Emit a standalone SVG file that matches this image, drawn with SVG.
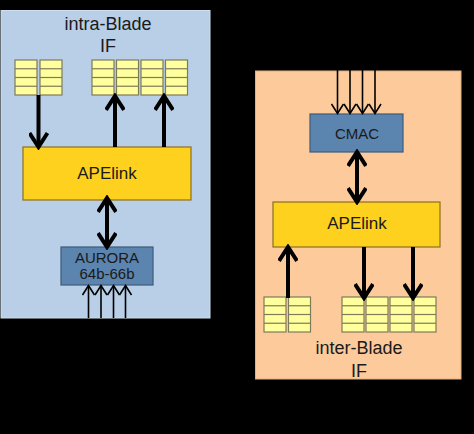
<svg xmlns="http://www.w3.org/2000/svg" width="474" height="434" viewBox="0 0 474 434">
<style>
.t{font-family:"Liberation Sans",Arial,sans-serif;fill:#1a1a1a;text-anchor:middle}
.thick{stroke:#000;stroke-width:4;fill:none}
.thin{stroke:#000;stroke-width:1.6;fill:none}
.ape{fill:#FFD11F;stroke:#8a7020;stroke-width:1.2}
.blue{fill:#5B84AE;stroke:#3c5a7a;stroke-width:1.2}
</style>
<defs>
<marker id="ck" markerUnits="userSpaceOnUse" viewBox="0 0 20 20" refX="16" refY="10" markerWidth="20" markerHeight="20" orient="auto-start-reverse">
<path d="M3,1 L17,10 L3,19" fill="none" stroke="#000" stroke-width="4"/>
</marker>
<marker id="cn" markerUnits="userSpaceOnUse" viewBox="0 0 14 14" refX="11" refY="7" markerWidth="14" markerHeight="14" orient="auto">
<path d="M2,1 L11.5,7 L2,13" fill="none" stroke="#000" stroke-width="1.6"/>
</marker>
<g id="f" fill="#FFFF9E" stroke="#7d7b5a" stroke-width="1.2">
<rect x="0" y="0" width="22" height="35"/>
<line x1="0" y1="8.75" x2="22" y2="8.75"/>
<line x1="0" y1="17.5" x2="22" y2="17.5"/>
<line x1="0" y1="26.25" x2="22" y2="26.25"/>
</g>
</defs>
<rect x="0" y="0" width="474" height="434" fill="#000"/>
<g id="intra-panel">
<rect x="1" y="10.5" width="209" height="307.5" fill="#B8CFE7" stroke="#cfdff0" stroke-width="1"/>
<text class="t" x="108" y="30" font-size="18">intra-Blade</text>
<text class="t" x="108" y="52" font-size="18">IF</text>
</g>
<g id="inter-panel">
<rect x="255.5" y="71" width="205.5" height="308" fill="#FDCB9B" stroke="#e0b080" stroke-width="1"/>
<text class="t" x="359" y="354" font-size="18">inter-Blade</text>
<text class="t" x="359" y="377" font-size="18">IF</text>
</g>
<g id="fifos-intra">
<use href="#f" x="15" y="60"/>
<use href="#f" x="40" y="60"/>
<use href="#f" x="92" y="60"/>
<use href="#f" x="116.5" y="60"/>
<use href="#f" x="141" y="60"/>
<use href="#f" x="165.5" y="60"/>
</g>
<g id="fifos-inter">
<use href="#f" x="264" y="297"/>
<use href="#f" x="288.5" y="297"/>
<use href="#f" x="342" y="297"/>
<use href="#f" x="366" y="297"/>
<use href="#f" x="390" y="297"/>
<use href="#f" x="414" y="297"/>
</g>
<g id="apelink-intra">
<rect class="ape" x="23" y="147" width="168" height="53"/>
<text class="t" x="107" y="179" font-size="17">APElink</text>
</g>
<g id="aurora">
<rect class="blue" x="61" y="247" width="92" height="38"/>
<text class="t" x="107" y="263" font-size="15">AURORA</text>
<text class="t" x="107" y="279" font-size="15">64b-66b</text>
</g>
<g id="cmac">
<rect class="blue" x="310" y="114" width="93" height="38"/>
<text class="t" x="357" y="139" font-size="15">CMAC</text>
</g>
<g id="apelink-inter">
<rect class="ape" x="273" y="202" width="167" height="45"/>
<text class="t" x="357" y="229" font-size="17">APElink</text>
</g>
<g id="connectors">
<line class="thick" x1="38.5" y1="95" x2="38.5" y2="146" marker-end="url(#ck)"/>
<line class="thick" x1="115" y1="147" x2="115" y2="97" marker-end="url(#ck)"/>
<line class="thick" x1="164" y1="147" x2="164" y2="97" marker-end="url(#ck)"/>
<line class="thick" x1="107" y1="199" x2="107" y2="246" marker-start="url(#ck)" marker-end="url(#ck)"/>
<line class="thin" x1="88.5" y1="318" x2="88.5" y2="286" marker-end="url(#cn)"/>
<line class="thin" x1="101" y1="318" x2="101" y2="286" marker-end="url(#cn)"/>
<line class="thin" x1="113.5" y1="318" x2="113.5" y2="286" marker-end="url(#cn)"/>
<line class="thin" x1="125.5" y1="318" x2="125.5" y2="286" marker-end="url(#cn)"/>
<line class="thin" x1="337.5" y1="70" x2="337.5" y2="113" marker-end="url(#cn)"/>
<line class="thin" x1="350" y1="70" x2="350" y2="113" marker-end="url(#cn)"/>
<line class="thin" x1="362.5" y1="70" x2="362.5" y2="113" marker-end="url(#cn)"/>
<line class="thin" x1="375" y1="70" x2="375" y2="113" marker-end="url(#cn)"/>
<line class="thick" x1="357" y1="153" x2="357" y2="201" marker-start="url(#ck)" marker-end="url(#ck)"/>
<line class="thick" x1="288" y1="298" x2="288" y2="248" marker-end="url(#ck)"/>
<line class="thick" x1="364" y1="247" x2="364" y2="297" marker-end="url(#ck)"/>
<line class="thick" x1="413" y1="247" x2="413" y2="297" marker-end="url(#ck)"/>
</g>
</svg>
